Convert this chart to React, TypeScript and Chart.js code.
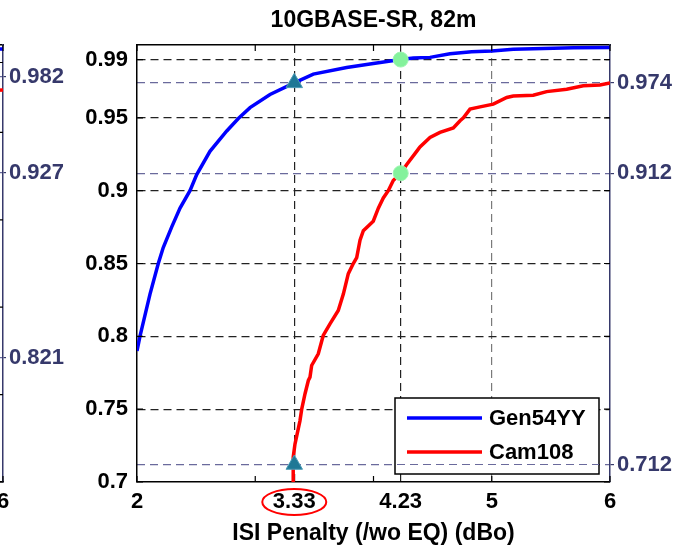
import React, { useEffect, useRef } from 'react';
import { Chart, registerables } from 'chart.js';

Chart.register(...registerables);

const FONT = '"Liberation Sans", Arial, Helvetica, sans-serif';

// ---------- main panel data ----------
const chartTitle = '10GBASE-SR, 82m';
const xAxisTitle = 'ISI Penalty (/wo EQ) (dBo)';
const xTickValues = [2, 3.33, 4.23, 5, 6];
const xTickLabels = ['2', '3.33', '4.23', '5', '6'];
const xMinorTicks = [2, 3, 4, 5, 6];
const yTickValues = [0.7, 0.75, 0.8, 0.85, 0.9, 0.95, 0.99];
const yTickLabels = ['0.7', '0.75', '0.8', '0.85', '0.9', '0.95', '0.99'];
const yRefValues = [0.712, 0.912, 0.974];
const yRefLabels = ['0.712', '0.912', '0.974'];
const highlightedTick = 3.33;

const seriesNames = ['Gen54YY', 'Cam108'];

const genX = [2.0, 2.025, 2.11, 2.18, 2.222, 2.293, 2.364, 2.448, 2.505, 2.617, 2.759, 2.857, 2.956, 3.125, 3.33, 3.491, 3.773, 3.97, 4.23, 4.337, 4.478, 4.647, 4.83, 5.0, 5.182, 5.69, 6.0];
const genY = [0.79, 0.8, 0.829, 0.85, 0.861, 0.875, 0.888, 0.9, 0.911, 0.927, 0.941, 0.9495, 0.957, 0.966, 0.974, 0.98, 0.9845, 0.987, 0.99, 0.991, 0.9915, 0.994, 0.9954, 0.9959, 0.997, 0.9981, 0.9982];

const camX = [3.32, 3.32, 3.322, 3.336, 3.378, 3.393, 3.421, 3.449, 3.463, 3.477, 3.533, 3.575, 3.632, 3.702, 3.745, 3.787, 3.829, 3.858, 3.886, 3.914, 3.998, 4.041, 4.083, 4.125, 4.167, 4.23, 4.281, 4.365, 4.393, 4.478, 4.562, 4.675, 4.732, 4.76, 4.816, 4.901, 5.013, 5.127, 5.182, 5.351, 5.464, 5.634, 5.774, 5.915, 6.0];
const camY = [0.7, 0.707, 0.717, 0.726, 0.742, 0.75, 0.7606, 0.7697, 0.772, 0.78, 0.788, 0.8006, 0.8086, 0.8177, 0.829, 0.843, 0.85, 0.854, 0.866, 0.8725, 0.879, 0.888, 0.895, 0.9, 0.907, 0.912, 0.918, 0.927, 0.93, 0.9365, 0.94, 0.943, 0.948, 0.95, 0.956, 0.9575, 0.9594, 0.964, 0.965, 0.9655, 0.968, 0.9696, 0.972, 0.9726, 0.974];

const triangleX = [3.33, 3.33];
const triangleY = [0.974, 0.712];
const circleX = [4.23, 4.23];
const circleY = [0.99, 0.912];

// ---------- cropped neighbouring panel (left edge) ----------
const leftXTicks = [2, 3, 4, 5, 6];
const leftXLabels = ['2', '3', '4', '5', '6'];
const leftYTicks = [0.75, 0.8, 0.85, 0.9, 0.95, 0.99];
const leftRefValues = [0.821, 0.927, 0.982];
const leftRefLabels = ['0.821', '0.927', '0.982'];
const leftGenX = [5.5, 6];
const leftGenY = [0.9975, 0.9977];
const leftCamX = [5.5, 6];
const leftCamY = [0.9735, 0.9742];

const BLUE = '#0000ff';
const RED = '#ff0000';
const NAVY = '#36396b';
const REF = '#6a6a9c';

const innerTicksPlugin = {
  id: 'innerTicks',
  afterDraw(chart: any, _a: any, opts: any) {
    if (!opts || !opts.x) return;
    const { ctx, chartArea: a, scales } = chart;
    ctx.save();
    ctx.strokeStyle = '#000';
    ctx.lineWidth = 1.2;
    ctx.beginPath();
    for (const v of opts.x) {
      const p = scales.x.getPixelForValue(v);
      ctx.moveTo(p, a.bottom);
      ctx.lineTo(p, a.bottom - 6);
      ctx.moveTo(p, a.top);
      ctx.lineTo(p, a.top + 6);
    }
    for (const v of opts.y) {
      const p = scales.y.getPixelForValue(v);
      ctx.moveTo(a.left, p);
      ctx.lineTo(a.left + 6, p);
      ctx.moveTo(a.right, p);
      ctx.lineTo(a.right - 6, p);
    }
    ctx.stroke();
    ctx.restore();
  },
};

const boxLegendPlugin = {
  id: 'boxLegend',
  afterDatasetsDraw(chart: any, _a: any, opts: any) {
    if (!opts || !opts.show) return;
    const { ctx, chartArea: a } = chart;
    const items = chart.data.datasets.filter((d: any) => d.label);
    const w = 204;
    const h = 76;
    const x0 = a.right - 11 - w;
    const y0 = a.bottom - 8 - h;
    ctx.save();
    ctx.fillStyle = '#fff';
    ctx.fillRect(x0, y0, w, h);
    ctx.strokeStyle = '#000';
    ctx.lineWidth = 1.5;
    ctx.strokeRect(x0, y0, w, h);
    ctx.font = `bold 22px ${FONT}`;
    ctx.textBaseline = 'middle';
    ctx.textAlign = 'left';
    items.forEach((d: any, i: number) => {
      const y = y0 + 20 + i * 34;
      ctx.strokeStyle = d.borderColor;
      ctx.lineWidth = 3.5;
      ctx.beginPath();
      ctx.moveTo(x0 + 12, y);
      ctx.lineTo(x0 + 87, y);
      ctx.stroke();
      ctx.fillStyle = '#000';
      ctx.fillText(d.label, x0 + 94, y + 1);
    });
    // reference lines are drawn over the legend box
    ctx.beginPath();
    ctx.rect(x0, y0, w, h);
    ctx.clip();
    ctx.strokeStyle = REF;
    ctx.lineWidth = 1.2;
    ctx.setLineDash([8, 5]);
    const ys = chart.scales.y2;
    ys.ticks.forEach((t: any) => {
      const p = ys.getPixelForValue(t.value);
      ctx.beginPath();
      ctx.moveTo(a.left, p);
      ctx.lineTo(a.right, p);
      ctx.stroke();
    });
    ctx.restore();
  },
};

const tickHighlightPlugin = {
  id: 'tickHighlight',
  afterDraw(chart: any, _a: any, opts: any) {
    if (!opts || opts.value === undefined) return;
    const { ctx, chartArea: a } = chart;
    const cx = chart.scales.x.getPixelForValue(opts.value);
    const cy = a.bottom + 20;
    ctx.save();
    ctx.strokeStyle = RED;
    ctx.lineWidth = 2;
    ctx.beginPath();
    ctx.ellipse(cx, cy, 32, 13, 0, 0, Math.PI * 2);
    ctx.stroke();
    ctx.restore();
  },
};

const tickFont = { family: FONT, size: 22, weight: 'bold' as const };
const dash = [8, 5];

function setTicks(values: number[]) {
  return (scale: any) => {
    scale.ticks = values.map((v) => ({ value: v }));
  };
}

function labelFrom(values: number[], labels: string[]) {
  return (v: any) => {
    const i = values.findIndex((x) => Math.abs(x - Number(v)) < 1e-9);
    return i >= 0 ? labels[i] : '';
  };
}

function toPts(xs: number[], ys: number[]) {
  return xs.map((x, i) => ({ x, y: ys[i] }));
}

export default function App() {
  const mainRef = useRef<HTMLCanvasElement>(null);
  const leftRef = useRef<HTMLCanvasElement>(null);

  useEffect(() => {
    const main = new Chart(mainRef.current as HTMLCanvasElement, {
      type: 'scatter',
      data: {
        datasets: [
          {
            type: 'scatter',
            data: toPts(triangleX, triangleY),
            pointStyle: 'triangle',
            pointRadius: 9.5,
            backgroundColor: '#1f7896',
            borderColor: '#4b9ab5',
            borderWidth: 1,
            order: 0,
          },
          {
            type: 'scatter',
            data: toPts(circleX, circleY),
            pointStyle: 'circle',
            pointRadius: 7.5,
            backgroundColor: '#84f29c',
            borderColor: '#9df5b0',
            borderWidth: 1,
            order: 0,
          },
          {
            label: seriesNames[0],
            type: 'line',
            data: toPts(genX, genY),
            borderColor: BLUE,
            borderWidth: 3.5,
            pointRadius: 0,
            tension: 0,
            fill: false,
            order: 2,
          },
          {
            label: seriesNames[1],
            type: 'line',
            data: toPts(camX, camY),
            borderColor: RED,
            borderWidth: 3.5,
            pointRadius: 0,
            tension: 0,
            fill: false,
            order: 1,
          },
        ],
      } as any,
      options: {
        animation: false,
        responsive: false,
        devicePixelRatio: 1,
        events: [],
        layout: { padding: 0 },
        plugins: {
          legend: { display: false },
          tooltip: { enabled: false },
          title: { display: false },
          innerTicks: { x: xMinorTicks, y: yTickValues },
          boxLegend: { show: true },
          tickHighlight: { value: highlightedTick },
        } as any,
        scales: {
          x: {
            type: 'linear',
            position: 'bottom',
            min: 2,
            max: 6,
            afterBuildTicks: setTicks(xTickValues),
            afterFit: (s: any) => { s.height = 63; },
            ticks: {
              autoSkip: false,
              maxRotation: 0,
              padding: 7,
              color: '#000',
              font: tickFont,
              callback: labelFrom(xTickValues, xTickLabels),
            },
            grid: {
              drawTicks: false,
              lineWidth: 1.2,
              color: (c: any) => {
                const v = c.tick ? c.tick.value : 0;
                if (v <= 2 || v >= 6) return 'rgba(0,0,0,0)';
                if (v === 5) return '#7a7a7a';
                return '#222';
              },
            },
            border: { color: '#000', width: 1.5, dash },
            title: {
              display: true,
              text: xAxisTitle,
              color: '#000',
              font: { family: FONT, size: 23, weight: 'bold', lineHeight: 1 },
              padding: { top: 0, bottom: 0 },
            },
          },
          x2: {
            type: 'linear',
            position: 'top',
            min: 2,
            max: 6,
            afterFit: (s: any) => { s.height = 45; },
            ticks: { display: false },
            grid: { drawOnChartArea: false, drawTicks: false },
            border: { color: '#000', width: 1.5 },
            title: {
              display: true,
              text: chartTitle,
              color: '#000',
              font: { family: FONT, size: 23, weight: 'bold', lineHeight: 1 },
              padding: { top: 9, bottom: 0 },
            },
          },
          y: {
            type: 'linear',
            position: 'left',
            min: 0.7,
            max: 1.0,
            afterBuildTicks: setTicks(yTickValues),
            afterFit: (s: any) => { s.width = 137; },
            ticks: {
              autoSkip: false,
              padding: 9,
              color: '#000',
              font: tickFont,
              callback: labelFrom(yTickValues, yTickLabels),
            },
            grid: {
              drawTicks: false,
              lineWidth: 1.2,
              color: (c: any) => (c.tick && c.tick.value <= 0.7 ? 'rgba(0,0,0,0)' : '#222'),
            },
            border: { color: '#000', width: 1.5, dash },
          },
          y2: {
            type: 'linear',
            position: 'right',
            min: 0.7,
            max: 1.0,
            afterBuildTicks: setTicks(yRefValues),
            afterFit: (s: any) => { s.width = 75; },
            ticks: {
              autoSkip: false,
              padding: 3,
              color: NAVY,
              font: tickFont,
              callback: labelFrom(yRefValues, yRefLabels),
            },
            grid: {
              drawTicks: true,
              tickLength: 4,
              tickColor: NAVY,
              tickBorderDash: [],
              lineWidth: 1.2,
              color: REF,
            },
            border: { color: NAVY, width: 1.5, dash },
          },
        } as any,
      },
      plugins: [innerTicksPlugin, boxLegendPlugin, tickHighlightPlugin],
    } as any);

    const left = new Chart(leftRef.current as HTMLCanvasElement, {
      type: 'scatter',
      data: {
        datasets: [
          {
            type: 'line',
            data: toPts(leftGenX, leftGenY),
            borderColor: BLUE,
            borderWidth: 3.5,
            pointRadius: 0,
            fill: false,
          },
          {
            type: 'line',
            data: toPts(leftCamX, leftCamY),
            borderColor: RED,
            borderWidth: 3.5,
            pointRadius: 0,
            fill: false,
          },
        ],
      } as any,
      options: {
        animation: false,
        responsive: false,
        devicePixelRatio: 1,
        events: [],
        layout: { padding: 0 },
        plugins: {
          legend: { display: false },
          tooltip: { enabled: false },
          innerTicks: { x: leftXTicks, y: leftYTicks },
        } as any,
        scales: {
          x: {
            type: 'linear',
            position: 'bottom',
            min: 2,
            max: 6,
            afterBuildTicks: setTicks(leftXTicks),
            afterFit: (s: any) => { s.height = 63; },
            ticks: {
              autoSkip: false,
              maxRotation: 0,
              padding: 7,
              color: '#000',
              font: tickFont,
              callback: labelFrom(leftXTicks, leftXLabels),
            },
            grid: { drawOnChartArea: false, drawTicks: false },
            border: { color: '#000', width: 1.5 },
          },
          x2: {
            type: 'linear',
            position: 'top',
            min: 2,
            max: 6,
            afterFit: (s: any) => { s.height = 45; },
            ticks: { display: false },
            grid: { drawOnChartArea: false, drawTicks: false },
            border: { color: '#000', width: 1.5 },
          },
          y: {
            type: 'linear',
            position: 'left',
            min: 0.75,
            max: 1.0,
            afterBuildTicks: setTicks(leftYTicks),
            afterFit: (s: any) => { s.width = 30; },
            ticks: { display: false },
            grid: { drawOnChartArea: false, drawTicks: false },
            border: { color: '#000', width: 1.5 },
          },
          y2: {
            type: 'linear',
            position: 'right',
            min: 0.75,
            max: 1.0,
            afterBuildTicks: setTicks(leftRefValues),
            afterFit: (s: any) => { s.width = 67; },
            ticks: {
              autoSkip: false,
              padding: 3,
              color: NAVY,
              font: tickFont,
              callback: labelFrom(leftRefValues, leftRefLabels),
            },
            grid: {
              drawTicks: true,
              tickLength: 3,
              tickColor: NAVY,
              lineWidth: 1.2,
              color: REF,
            },
            border: { color: NAVY, width: 1.5, dash },
          },
        } as any,
      },
      plugins: [innerTicksPlugin],
    } as any);

    return () => {
      main.destroy();
      left.destroy();
    };
  }, []);

  return (
    <div
      style={{
        position: 'fixed',
        left: 0,
        top: 0,
        width: 685,
        height: 545,
        overflow: 'hidden',
        background: '#fff',
      }}
    >
      <canvas
        ref={leftRef}
        width={400}
        height={545}
        style={{ position: 'absolute', left: -330, top: 0, width: 400, height: 545 }}
      />
      <canvas
        ref={mainRef}
        width={685}
        height={545}
        style={{ position: 'absolute', left: 0, top: 0, width: 685, height: 545 }}
      />
    </div>
  );
}
